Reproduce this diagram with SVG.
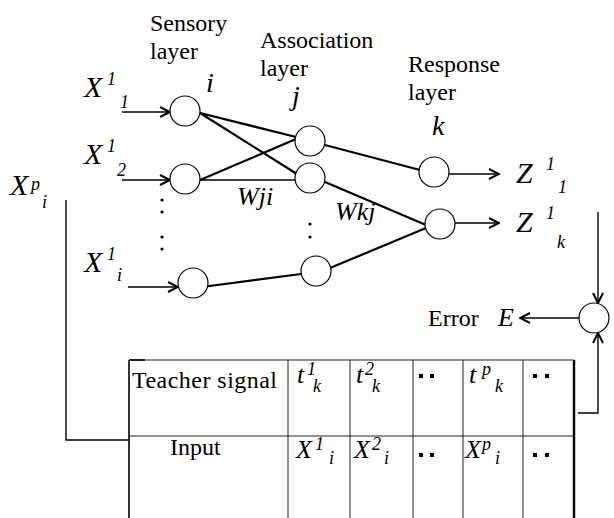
<svg xmlns="http://www.w3.org/2000/svg" width="614" height="518" viewBox="0 0 614 518">
<style>
.lbl{font-family:'Liberation Serif','DejaVu Serif',serif;font-size:24px;fill:#000}
.m{font-family:'Liberation Serif','DejaVu Serif',serif;font-style:italic;fill:#000}
.big{font-size:30px}
.idx{font-size:28px}
.mid{font-size:26px}
.sm{font-size:18px}
.node{fill:#fff;stroke:#000;stroke-width:1.2}
.edge{stroke:#000;stroke-width:2.2;fill:none}
.thin{stroke:#000;stroke-width:1.4;fill:none}
.tbl{stroke:#222;stroke-width:1;fill:none}
</style>
<defs>
<marker id="ah" viewBox="0 0 12 12" refX="11" refY="6" markerWidth="12" markerHeight="12" markerUnits="userSpaceOnUse" orient="auto">
<path d="M1,1 L11,6 L1,11" fill="none" stroke="#000" stroke-width="2"/>
</marker>
</defs>

<g id="labels">
<text class="lbl" x="150" y="31">Sensory</text>
<text class="lbl" x="150" y="59">layer</text>
<text class="lbl" x="260" y="48">Association</text>
<text class="lbl" x="260" y="76">layer</text>
<text class="lbl" x="408" y="72">Response</text>
<text class="lbl" x="408" y="100">layer</text>
<text class="m idx" x="206" y="92">i</text>
<text class="m idx" x="292" y="105">j</text>
<text class="m idx" x="432" y="135">k</text>
<text class="m mid" x="237" y="205">Wji</text>
<text class="m mid" x="335" y="220">Wkj</text>
</g>

<g id="inputs">
<text class="m big" x="84" y="97">X</text><text class="m sm" x="107" y="85">1</text><text class="m sm" x="120" y="108">1</text>
<text class="m big" x="84" y="164">X</text><text class="m sm" x="107" y="152">1</text><text class="m sm" x="117" y="176">2</text>
<text class="m big" x="84" y="272">X</text><text class="m sm" x="107" y="260">1</text><text class="m sm" x="117" y="281">i</text>
<text class="m big" x="10" y="195">X</text><text class="m sm" x="31" y="190">p</text><text class="m sm" x="42" y="208">i</text>
</g>

<g id="dots" fill="#000">
<circle cx="162" cy="200" r="1.6"/><circle cx="162" cy="212" r="1.6"/>
<circle cx="162" cy="237" r="1.6"/><circle cx="162" cy="249" r="1.6"/>
<circle cx="310" cy="224" r="1.6"/><circle cx="310" cy="237" r="1.6"/>
</g>

<g id="connectors">
<line class="thin" x1="122" y1="112" x2="170" y2="112" marker-end="url(#ah)"/>
<line class="thin" x1="122" y1="180" x2="170" y2="180" marker-end="url(#ah)"/>
<line class="thin" x1="128" y1="287" x2="178" y2="287" marker-end="url(#ah)"/>
<line class="edge" x1="200" y1="113" x2="296" y2="137"/>
<line class="edge" x1="200" y1="113" x2="297" y2="174"/>
<line class="edge" x1="200" y1="180" x2="296" y2="139"/>
<line class="thin" x1="200" y1="180" x2="295" y2="180" stroke-width="1"/>
<line class="edge" x1="202" y1="287" x2="301" y2="274"/>
<line class="edge" x1="325" y1="145" x2="420" y2="170"/>
<line class="edge" x1="325" y1="182" x2="426" y2="225"/>
<line class="edge" x1="330" y1="268" x2="426" y2="228"/>
<line class="thin" x1="449" y1="174" x2="499" y2="174" marker-end="url(#ah)"/>
<line class="thin" x1="455" y1="223" x2="499" y2="223" marker-end="url(#ah)"/>
<line class="thin" x1="598" y1="212" x2="598" y2="303" marker-end="url(#ah)"/>
<line class="thin" x1="579" y1="318" x2="520" y2="318" stroke-width="1" marker-end="url(#ah)"/>
<polyline class="thin" points="578,413 598,413 598,333" stroke-width="2" marker-end="url(#ah)"/>
<polyline class="thin" points="66,200 66,440 129,440" stroke-width="1.2"/>
</g>

<g id="s1"><circle class="node" cx="185" cy="111" r="15"/></g>
<g id="s2"><circle class="node" cx="185" cy="179" r="15"/></g>
<g id="s3"><circle class="node" cx="193" cy="283" r="15"/></g>
<g id="a1"><circle class="node" cx="310" cy="141" r="15"/></g>
<g id="a2"><circle class="node" cx="310" cy="178" r="15"/></g>
<g id="a3"><circle class="node" cx="316" cy="271" r="15"/></g>
<g id="r1"><circle class="node" cx="434" cy="172" r="15"/></g>
<g id="r2"><circle class="node" cx="440" cy="224" r="15"/></g>
<g id="sum"><circle class="node" cx="594" cy="318" r="15"/></g>

<g id="outputs">
<text class="m big" x="516" y="183">Z</text><text class="m sm" x="546" y="170">1</text><text class="m sm" x="558" y="193">1</text>
<text class="m big" x="516" y="232">Z</text><text class="m sm" x="546" y="219">1</text><text class="m sm" x="557" y="248">k</text>
<text class="lbl" x="428" y="326">Error</text>
<text class="m mid" x="498" y="326">E</text>
</g>

<g id="table">
<path class="tbl" d="M129,360 H574 M129,436 H574 M288,360 V518 M350,360 V518 M413,360 V518 M463,360 V518 M523,360 V518"/>
<line x1="129" y1="360" x2="129" y2="518" stroke="#000" stroke-width="1.6"/>
<line x1="129" y1="360" x2="145" y2="360" stroke="#000" stroke-width="1.6"/>
<line x1="574" y1="360" x2="574" y2="518" stroke="#000" stroke-width="2.4"/>
<text class="lbl" x="132" y="388" textLength="145">Teacher signal</text>
<text class="lbl" x="170" y="455">Input</text>
<text class="m mid" x="297" y="383">t</text><text class="m sm" x="307" y="375">1</text><text class="m sm" x="313" y="392">k</text>
<text class="m mid" x="356" y="383">t</text><text class="m sm" x="365" y="375">2</text><text class="m sm" x="372" y="392">k</text>
<text class="m mid" x="469" y="383">t</text><text class="m sm" x="482" y="375">p</text><text class="m sm" x="495" y="392">k</text>
<text class="m mid" x="296" y="458">X</text><text class="m sm" x="315" y="450">1</text><text class="m sm" x="329" y="464">i</text>
<text class="m mid" x="354" y="458">X</text><text class="m sm" x="372" y="450">2</text><text class="m sm" x="384" y="464">i</text>
<text class="m mid" x="465" y="458">X</text><text class="m sm" x="482" y="450">p</text><text class="m sm" x="495" y="464">i</text>
<g fill="#000">
<rect x="419" y="374" width="4" height="4"/><rect x="430" y="374" width="4" height="4"/>
<rect x="533" y="374" width="4" height="4"/><rect x="545" y="374" width="4" height="4"/>
<rect x="419" y="453" width="4" height="4"/><rect x="430" y="453" width="4" height="4"/>
<rect x="533" y="453" width="4" height="4"/><rect x="545" y="453" width="4" height="4"/>
</g>
</g>
</svg>
